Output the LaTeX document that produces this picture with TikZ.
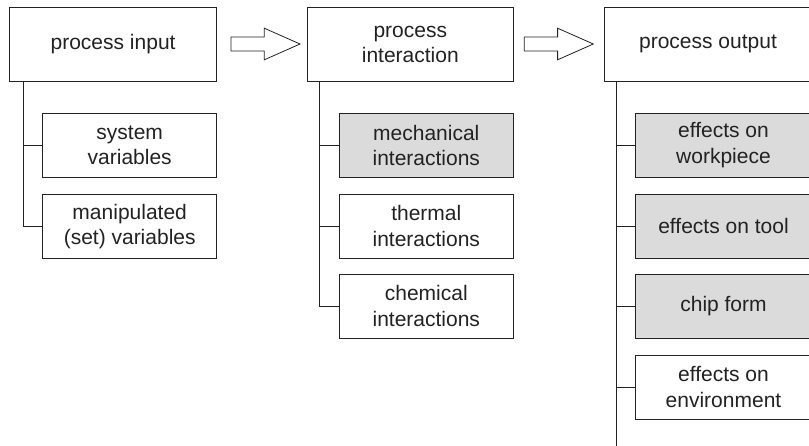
\documentclass[tikz,border=0pt]{standalone}
\usepackage{fontspec}
\setmainfont{Liberation Sans}
\definecolor{inkc}{RGB}{34,34,34}
\definecolor{shade}{RGB}{219,219,219}
\tikzset{
  box/.style={draw=inkc, line width=0.95pt, rectangle, inner sep=0pt,
    text=inkc, align=center, font=\fontsize{21}{25.5}\selectfont},
  headbox/.style={box, minimum height=74pt},
  subbox/.style={box, minimum width=174pt, minimum height=64pt},
  grey/.style={fill=shade},
  link/.style={draw=inkc, line width=0.95pt},
  pics/blockarrow/.style={code={
    \draw[draw=inkc, line width=0.8pt, fill=white]
      (0,-7) -- (33.3,-7) -- (33.3,-15.8) -- (69,0) -- (33.3,15.8)
      -- (33.3,7) -- (0,7) -- cycle;}}
}
\begin{document}
\begin{tikzpicture}[x=1pt,y=-1pt]
\useasboundingbox (0,0) rectangle (809,445);

% top level: the three stages
\node[headbox, minimum width=207.2pt] (in)  at (113.1,44.3) {process input};
\node[headbox, minimum width=206pt]   (mid) at (410.3,44.3) {process\\interaction};
% the output column runs off the right edge of the sheet
\node[headbox, minimum width=207pt] (out) at (708,44.3) {process output};

% hollow arrows between the stages
\pic at (231,44) {blockarrow};
\pic at (524.3,44) {blockarrow};

% input branch
\node[subbox] (sys) at (129.7,145.3) {system\\variables};
\node[subbox] (man) at (129.7,226.5) {manipulated\\(set) variables};

% interaction branch
\node[subbox, grey] (mech) at (426.3,145.3) {mechanical\\interactions};
\node[subbox]       (therm) at (426.3,226) {thermal\\interactions};
\node[subbox]       (chem) at (426.3,306.2) {chemical\\interactions};

% output branch
\tikzset{outbox/.style={subbox, minimum width=177pt}}
\node[outbox, grey] (work) at (723.5,145.3) {effects on\\workpiece};
\node[outbox, grey] (tool) at (723.5,226) {effects on tool};
\node[outbox, grey] (chip) at (723.5,306.2) {chip form};
\node[outbox]       (env)  at (723.5,387) {effects on\\environment};

% trunk positions
\coordinate (lt) at (23.3,0);
\coordinate (mt) at (319.3,0);
\coordinate (rt) at (616,0);
\coordinate (rend) at (616,450);

% tree connectors
\draw[link] (in.south -| lt) |- (man.west);
\draw[link] (lt |- sys.west) -- (sys.west);

\draw[link] (mid.south -| mt) |- (chem.west);
\draw[link] (mt |- mech.west) -- (mech.west);
\draw[link] (mt |- therm.west) -- (therm.west);

\draw[link] (out.south -| rt) -- (rend);
\draw[link] (rt |- work.west) -- (work.west);
\draw[link] (rt |- tool.west) -- (tool.west);
\draw[link] (rt |- chip.west) -- (chip.west);
\draw[link] (rt |- env.west) -- (env.west);
\end{tikzpicture}
\end{document}
